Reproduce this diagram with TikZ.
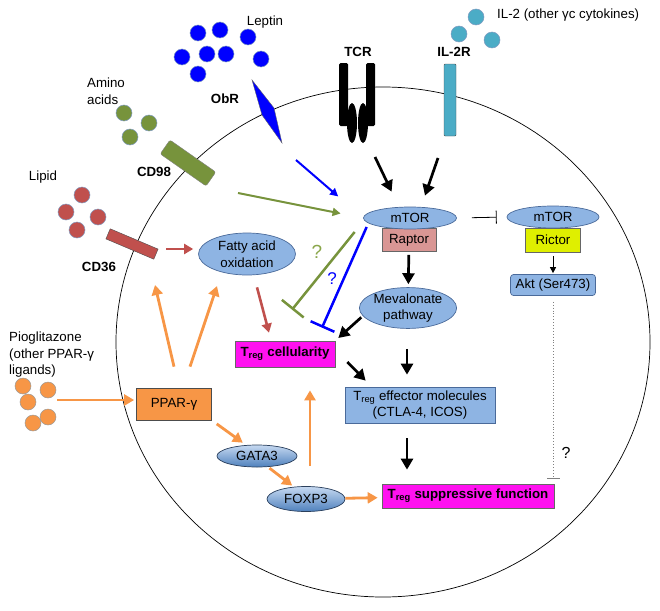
\documentclass[tikz,border=0pt]{standalone}
\usepackage{fontspec}
\setmainfont{Liberation Sans}
\usetikzlibrary{arrows.meta,shapes.geometric}
\definecolor{lepblue}{HTML}{0000FF}
\definecolor{amgreen}{HTML}{77933C}
\definecolor{lipred}{HTML}{C0504D}
\definecolor{orng}{HTML}{F79646}
\definecolor{iltea}{HTML}{4BACC6}
\definecolor{lblue}{HTML}{8EB4E3}
\definecolor{oline}{HTML}{4A6A9A}
\definecolor{dotline}{HTML}{7F9AC0}
\definecolor{magbox}{HTML}{FF11F0}
\definecolor{raptorc}{HTML}{D99694}
\definecolor{rictorc}{HTML}{DFEF00}
\definecolor{gtop}{HTML}{C6D9F1}
\definecolor{gbot}{HTML}{4F81BD}
\definecolor{qgreen}{HTML}{8AA64A}
\tikzset{
	every node/.style={font=\fontsize{13.3}{16.5}\selectfont},
	dot/.style={circle,inner sep=0pt,minimum size=16pt,line width=0.5pt,draw=dotline},
	lbl/.style={inner sep=0pt},
	bflbl/.style={inner sep=0pt,font=\fontsize{13.3}{16.5}\selectfont\bfseries},
	qmark/.style={inner sep=0pt,font=\fontsize{#1}{#1}\selectfont},
	oval/.style={ellipse,draw=oline,fill=lblue,inner sep=0pt,align=center,line width=0.7pt},
	box/.style={rectangle,draw=oline,fill=lblue,inner sep=0pt,align=center,line width=0.7pt},
	magb/.style={box,draw=black!60,fill=magbox,font=\fontsize{13.3}{16.5}\selectfont\bfseries},
	shoval/.style={oval,top color=gtop,bottom color=gbot,draw=oline!60!black},
	blk/.style={line width=2.7pt,-{Triangle[length=11pt,width=12pt]}},
	org/.style={draw=orng,line width=2.8pt,-{Triangle[length=10pt,width=11pt]}},
	rarr/.style={draw=lipred,line width=2.6pt,-{Triangle[length=9pt,width=10pt]}},
	garr/.style={draw=amgreen,line width=2pt,-{Triangle[length=8pt,width=8pt]}},
	barr/.style={draw=lepblue,line width=2pt,-{Triangle[length=8pt,width=8pt]}},
	ginh/.style={draw=amgreen,line width=2.5pt,-{Bar[width=28pt]}},
	binh/.style={draw=lepblue,line width=2.5pt,-{Bar[width=26pt]}},
	inh/.style={line width=0.8pt,-{Bar[width=13pt]}},
	tarr/.style={line width=0.9pt,-{Triangle[length=6pt,width=6pt]}},
	dotinh/.style={draw=black!50,line width=0.9pt,dotted,-{Bar[width=13pt]}}
}
\begin{document}
\begin{tikzpicture}[x=1pt,y=-1pt]
	\useasboundingbox (0,0) rectangle (660,610);
	\draw[line width=0.7pt] (383,342) ellipse [x radius=267pt,y radius=255pt];
	\foreach \p [count=\i] in {(198,33),(220,30),(248,37),(182,57),(207,54),(226,54),(261,59),(198,74)}
		\node[dot,fill=lepblue] (lep\i) at \p {};
	\foreach \p [count=\i] in {(476,17),(459,34),(492,40)}
		\node[dot,fill=iltea] (il\i) at \p {};
	\foreach \p [count=\i] in {(124,113),(149,123),(130,137)}
		\node[dot,fill=amgreen] (am\i) at \p {};
	\foreach \p [count=\i] in {(82,195),(66,212),(98,217),(77,230)}
		\node[dot,fill=lipred] (lip\i) at \p {};
	\foreach \p [count=\i] in {(23,386),(48,390),(28,402),(48,417),(33,423)}
		\node[dot,fill=orng,draw=black!40] (pg\i) at \p {};
	\node[lbl] (leptin) at (265,22) {Leptin};
	\node[lbl,anchor=west] (il2) at (497,15) {IL-2 (other γc cytokines)};
	\node[lbl,align=left] (amino) at (106,91) {Amino\\acids};
	\node[lbl] (lipid) at (43,177) {Lipid};
	\node[lbl,anchor=west,align=left] (pio) at (9,355) {Pioglitazone\\(other PPAR-γ\\ligands)};
	\node[bflbl] (obrl) at (225,99) {ObR};
	\node[bflbl] (cd98l) at (154,172) {CD98};
	\node[bflbl] (cd36l) at (99,267) {CD36};
	\node[bflbl] (tcrl) at (358,52) {TCR};
	\node[bflbl] (il2rl) at (454,52) {IL-2R};
	\draw[fill=lepblue,draw=black!60] (252,80) -- (274,108) -- (282,143) -- (262,115) -- cycle;
	\node[draw=black!50,fill=amgreen,rounded corners=2pt,minimum width=56pt,minimum height=17pt,inner sep=0pt,rotate=-35] (cd98) at (188,163) {};
	\node[draw=black!70,fill=lipred,minimum width=52pt,minimum height=11pt,inner sep=0pt,rotate=-23] (cd36) at (132,244) {};
	\fill[rounded corners=1.5pt] (339,63) rectangle (348,126);
	\fill[rounded corners=1.5pt] (366,63) rectangle (375,126);
	\fill (352,123) ellipse [x radius=5pt,y radius=20pt];
	\fill (363,123) ellipse [x radius=5pt,y radius=20pt];
	\draw[fill=iltea,draw=black!70,rounded corners=1pt] (444,64) rectangle (456,136);
	\node[box,fill=raptorc,draw=black!60,minimum width=54pt,minimum height=23pt] (raptor) at (409,240) {Raptor};
	\node[oval,minimum width=93pt,minimum height=22pt] (mtorA) at (410,218) {mTOR};
	\node[box,fill=rictorc,draw=black!60,minimum width=55pt,minimum height=24pt] (rictor) at (553,240) {Rictor};
	\node[oval,minimum width=92pt,minimum height=22pt] (mtorB) at (553,217) {mTOR};
	\node[box,rounded corners=3pt,minimum width=85pt,minimum height=21pt] (akt) at (553,285) {Akt (Ser473)};
	\node[oval,minimum width=97pt,minimum height=42pt] (fao) at (247,254) {Fatty acid\\oxidation};
	\node[oval,minimum width=93pt,minimum height=40pt] (mev) at (408,308) {Mevalonate\\pathway};
	\node[magb,minimum width=100pt,minimum height=26pt] (cell) at (285,354) {T\textsubscript{reg} cellularity};
	\node[box,minimum width=150pt,minimum height=36pt] (eff) at (420,405) {T\textsubscript{reg} effector molecules\\(CTLA-4, ICOS)};
	\node[box,fill=orng,draw=black!70,minimum width=75pt,minimum height=32pt] (ppar) at (174,404) {PPAR-γ};
	\node[shoval,minimum width=80pt,minimum height=22pt] (gata) at (257,456) {GATA3};
	\node[shoval,minimum width=78pt,minimum height=25pt] (foxp) at (306,499) {FOXP3};
	\node[magb,minimum width=172pt,minimum height=24pt] (supp) at (468,496) {T\textsubscript{reg} suppressive function};
	\coordinate (tcrb) at (375,157);
	\coordinate (il2b) at (438,158);
	\coordinate (obrb) at (296,160);
	\coordinate (cd98b) at (238,193);
	\coordinate (cd36b) at (166,249);
	\coordinate (piob) at (57,400);
	\coordinate (upend) at (155,285);
	\draw[blk,shorten >=17pt] (tcrb) -- (mtorA.135);
	\draw[blk,shorten >=12pt] (il2b) -- (mtorA.45);
	\draw[barr,shorten >=33pt] (obrb) -- (mtorA.west);
	\draw[garr,shorten >=23pt] (cd98b) -- (mtorA.west);
	\draw[rarr,shorten >=5pt] (cd36b) -- (cd36b -| fao.west);
	\draw[rarr] ([shift={(10,12)}]fao.south) -- ([shift={(-16,-8)}]cell.north);
	\draw[ginh] ([shift={(-8.5,14)}]mtorA.west) -- ([shift={(7,-31)}]cell.north);
	\draw[binh] ([shift={(3.5,9)}]mtorA.west) -- ([shift={(37,-13)}]cell.north);
	\node[qmark=19,text=qgreen] (q1) at (317,252) {?};
	\node[qmark=17,text=lepblue] (q2) at (332,279) {?};
	\draw[blk,shorten <=3pt,shorten >=3pt] (raptor) -- (mev);
	\draw[blk,shorten <=2pt,shorten >=4pt] (mev.190) -- (cell.north east);
	\draw[blk] ([shift={(12,8)}]cell.east) -- ([shift={(21,-6)}]eff.north west);
	\draw[blk] ([shift={(-1,20)}]mev.south) -- ([shift={(-13,-12)}]eff.north);
	\draw[blk] ([shift={(-13,15)}]eff.south) -- ([shift={(-61,-14)}]supp.north);
	\draw[org,shorten >=2pt] (piob) -- (piob -| ppar.west);
	\draw[org] ([yshift=21pt]ppar.north) -- (upend);
	\draw[org] ([shift={(16,-21)}]ppar.north) -- ([shift={(-30,32)}]fao.center);
	\draw[org,shorten <=6pt,shorten >=4pt] (ppar.south east) -- (gata.135);
	\draw[org,shorten <=2pt,shorten >=2pt] (gata.-45) -- (foxp.135);
	\draw[org] ([shift={(4,-20)}]foxp.north) -- ([shift={(25,23)}]cell.south);
	\draw[org,shorten >=4pt] (foxp) -- (supp);
	\draw[inh,shorten <=15pt,shorten >=10pt] (mtorA.east) -- (mtorB.west);
	\draw[tarr,shorten <=4pt,shorten >=1pt] (rictor) -- (akt);
	\draw[dotinh,shorten <=6pt,shorten >=5pt] (akt.south) -- (akt.south |- supp.north);
	\node[qmark=16] (q3) at (566,453) {?};
\end{tikzpicture}
\end{document}
